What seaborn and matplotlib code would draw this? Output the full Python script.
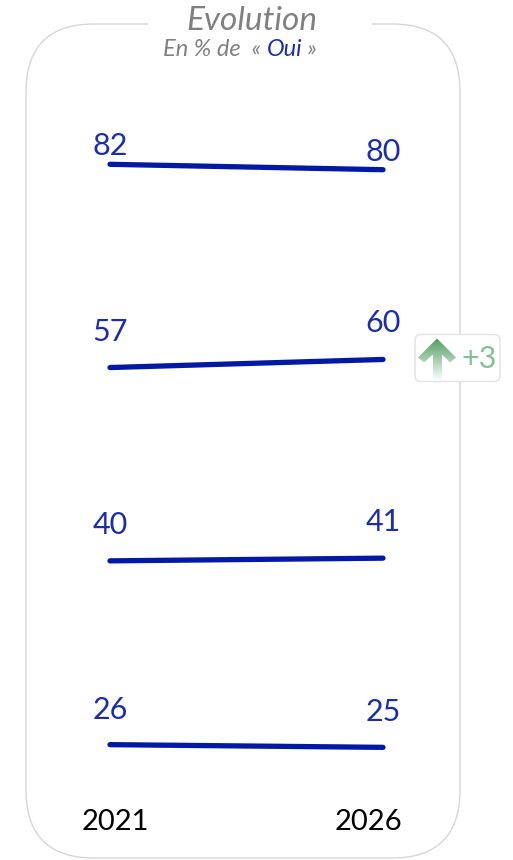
import numpy as np
import pandas as pd
import seaborn as sns
import matplotlib.pyplot as plt
from matplotlib.patches import FancyBboxPatch, Polygon, Rectangle
from matplotlib.colors import LinearSegmentedColormap

# ---- data ----
years = ["2021", "2026"]
values_2021 = [82, 57, 40, 26]
values_2026 = [80, 60, 41, 25]
title = "Evolution"
subtitle_parts = ["En % de  « ", "Oui", " »"]

sns.set_theme(style="white")
plt.rcParams['font.family'] = ['Lato', 'DejaVu Sans']

W, H = 513, 860
fig = plt.figure(figsize=(W / 100, H / 100), dpi=100)
fig.patch.set_facecolor('white')

# background axes in pixel coordinates for decoration
bg = fig.add_axes([0, 0, 1, 1])
bg.set_xlim(0, W)
bg.set_ylim(H, 0)
bg.axis('off')

LINE_C = '#0219a6'
LABEL_C = '#1a2db0'
GRAY = '#808080'

box = FancyBboxPatch((26, 24), 434, 834, boxstyle="round,pad=0,rounding_size=68",
                     fc='white', ec='#d6d6d6', lw=1.0, zorder=1)
bg.add_patch(box)
bg.add_patch(Rectangle((148, 8), 224, 34, fc='white', ec='none', zorder=2))

bg.text(252, 21, title, ha='center', va='center', fontsize=24, style='italic',
        color=GRAY, zorder=3)
t1 = bg.text(163, 50, subtitle_parts[0], ha='left', va='center', fontsize=17,
             style='italic', color=GRAY, zorder=3)
t2 = bg.annotate(subtitle_parts[1], xy=(1, 0), xycoords=t1, va='bottom', ha='left',
                 fontsize=17, style='italic', color='#1a2db0', zorder=3)
t3 = bg.annotate(subtitle_parts[2], xy=(1, 0), xycoords=t2, va='bottom', ha='left',
                 fontsize=17, style='italic', color=GRAY, zorder=3)

# ---- rows ----
x0_px, x1_px = 110, 383
ppu = (x1_px - x0_px)
xlim = (-x0_px / ppu, (W - x0_px) / ppu)
row_centers = [167, 363.5, 559.5, 746]
label_offsets = [18, 36, 36, 35]
half_h = 95
px_per_unit = 2.7

for i, (a, b) in enumerate(zip(values_2021, values_2026)):
    yc = row_centers[i]
    ax = fig.add_axes([0, 1 - (yc + half_h) / H, 1, 2 * half_h / H])
    ax.patch.set_alpha(0)
    df = pd.DataFrame({'pos': [0, 1], 'value': [a, b]})
    sns.lineplot(data=df, x='pos', y='value', ax=ax, color=LINE_C, lw=3.8,
                 solid_capstyle='round')
    mid = (a + b) / 2
    ax.set_xlim(*xlim)
    ax.set_ylim(mid - half_h / px_per_unit, mid + half_h / px_per_unit)
    ax.axis('off')
    for x, v in zip([0, 1], [a, b]):
        ax.annotate(f"{v}", xy=(x, v), xytext=(0, label_offsets[i]),
                    textcoords='offset pixels', ha='center', va='center',
                    fontsize=22, color=LABEL_C)
    diff = b - a
    if abs(diff) >= 3:
        # badge in pixel coords
        ymid = yc - 6
        bg.add_patch(FancyBboxPatch((415, ymid - 23), 85, 47,
                                    boxstyle="round,pad=0,rounding_size=6",
                                    fc='white', ec='#e2e2e2', lw=1.0, zorder=5))
        up = diff > 0
        cx = 437
        if up:
            pts = [(cx, ymid - 19), (cx + 19, ymid + 0), (cx + 13, ymid + 5),
                   (cx + 5, ymid - 3), (cx + 5, ymid + 23), (cx - 4, ymid + 23),
                   (cx - 4, ymid - 3), (cx - 13, ymid + 5), (cx - 19, ymid + 0)]
            cmap = LinearSegmentedColormap.from_list('g', ['#4a9a5c', '#ffffff'])
        else:
            pts = [(cx, ymid + 19), (cx + 19, ymid), (cx + 13, ymid - 5),
                   (cx + 5, ymid + 3), (cx + 5, ymid - 23), (cx - 4, ymid - 23),
                   (cx - 4, ymid + 3), (cx - 13, ymid - 5), (cx - 19, ymid)]
            cmap = LinearSegmentedColormap.from_list('r', ['#ffffff', '#c0504d'])
        poly = Polygon(pts, closed=True, fc='none', ec='none', transform=bg.transData)
        bg.add_patch(poly)
        grad = np.linspace(0, 1, 100).reshape(-1, 1)
        im = bg.imshow(grad, extent=(cx - 20, cx + 20, ymid + 24, ymid - 20),
                       cmap=cmap, aspect='auto', zorder=6, origin='upper')
        im.set_clip_path(poly)
        bg.text(479, ymid + 1, f"{'+' if up else '−'}{abs(diff)}", ha='center',
                va='center', fontsize=22,
                color='#86c095' if up else '#d08080', zorder=6)
        bg.set_xlim(0, W)
        bg.set_ylim(H, 0)

# years
bg.text(115, 822, years[0], ha='center', va='center', fontsize=21,
        color='black', zorder=3)
bg.text(368, 822, years[1], ha='center', va='center', fontsize=21,
        color='black', zorder=3)

fig.savefig('out.png', dpi=100, facecolor='white')
